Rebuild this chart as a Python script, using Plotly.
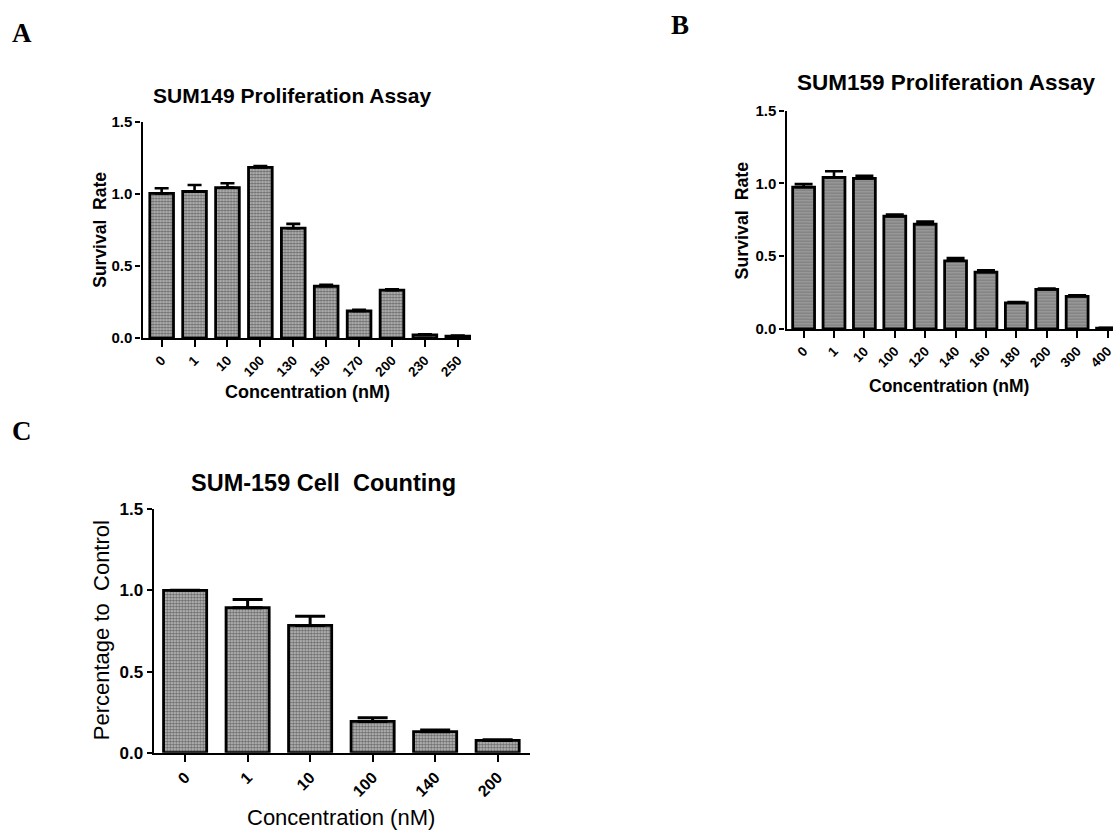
import plotly.graph_objects as go

# ---- Data ----
a_cats = ["0", "1", "10", "100", "130", "150", "170", "200", "230", "250"]
a_vals = [1.005, 1.018, 1.045, 1.185, 0.763, 0.360, 0.188, 0.333, 0.022, 0.014]
a_err = [0.035, 0.045, 0.030, 0.010, 0.030, 0.010, 0.008, 0.006, 0.004, 0.003]

b_cats = ["0", "1", "10", "100", "120", "140", "160", "180", "200", "300", "400"]
b_vals = [0.974, 1.041, 1.034, 0.774, 0.720, 0.468, 0.390, 0.179, 0.271, 0.224, 0.005]
b_err = [0.022, 0.042, 0.018, 0.011, 0.018, 0.018, 0.013, 0.005, 0.006, 0.006, 0.002]

c_cats = ["0", "1", "10", "100", "140", "200"]
c_vals = [1.0, 0.893, 0.784, 0.193, 0.130, 0.076]
c_err = [0.0, 0.050, 0.056, 0.022, 0.010, 0.004]

W, H = 1114, 839
FONT = "Liberation Sans, Arial, sans-serif"
SERIF = "Liberation Serif, Times New Roman, serif"


def px(x):
    return x / W


def py(y):
    return 1 - y / H


fig = go.Figure()

checker = dict(shape=".", size=3, solidity=0.55, fgcolor="#111111", bgcolor="#c4c4c4")
stripes = dict(shape="-", size=3, solidity=0.4, fgcolor="#5c5c5c", bgcolor="#9a9a9a")


def add_bars(cats, vals, err, xa, ya, pattern, width, capw, ethick):
    fig.add_trace(go.Bar(
        x=cats, y=vals, xaxis=xa, yaxis=ya, width=width,
        marker=dict(color="#999999", line=dict(color="black", width=2.8), pattern=pattern),
        error_y=dict(type="data", symmetric=False, array=err, arrayminus=[0] * len(err),
                     color="black", thickness=ethick, width=capw),
        showlegend=False,
    ))


add_bars(a_cats, a_vals, a_err, "x", "y", checker, 0.72, 7, 2.6)
add_bars(b_cats, b_vals, b_err, "x2", "y2", stripes, 0.72, 9, 2.6)
add_bars(c_cats, c_vals, c_err, "x3", "y3", checker, 0.69, 15, 3)


def xax(domain, rng, size, anchor):
    return dict(domain=domain, range=rng, anchor=anchor, type="category",
                showline=True, linecolor="black", linewidth=2.4, ticks="outside",
                ticklen=7, tickwidth=2.2, tickcolor="black", tickangle=-45,
                tickfont=dict(family=FONT, size=size, color="black", weight="bold"),
                showgrid=False, zeroline=False, fixedrange=True)


def yax(domain, size, anchor):
    return dict(domain=domain, range=[0, 1.5], anchor=anchor,
                tickvals=[0, 0.5, 1.0, 1.5], tickformat=".1f",
                showline=True, linecolor="black", linewidth=2.4, ticks="outside",
                ticklen=5, tickwidth=2.2, tickcolor="black",
                tickfont=dict(family=FONT, size=size, color="black", weight="bold"),
                showgrid=False, zeroline=False, fixedrange=True)


fig.update_layout(
    width=W, height=H, margin=dict(l=0, r=0, t=0, b=0),
    paper_bgcolor="white", plot_bgcolor="white",
    xaxis=xax([px(142.7), px(471.7)], [-0.58, 9.41], 13.5, "y"),
    yaxis=yax([py(336.7), py(115.7)], 15, "x"),
    xaxis2=xax([px(787.3), 1.0], [-0.56, 10.18], 13.5, "y2"),
    yaxis2=yax([py(327.3), py(104)], 15, "x2"),
    xaxis3=xax([px(154), px(530)], [-0.5, 5.51], 16, "y3"),
    yaxis3=yax([py(761), py(511.7)], 17, "x3"),
)

annos = [
    # panel letters
    dict(x=px(22), y=py(25), text="<b>A</b>", size=27, family=SERIF),
    dict(x=px(681), y=py(16), text="<b>B</b>", size=27, family=SERIF),
    dict(x=px(22), y=py(432), text="<b>C</b>", size=27, family=SERIF),
    # titles
    dict(x=px(292.5), y=py(88), text="<b>SUM149 Proliferation Assay</b>", size=21, family=FONT),
    dict(x=px(947.5), y=py(75), text="<b>SUM159 Proliferation Assay</b>", size=22.5, family=FONT),
    dict(x=px(324), y=py(485), text="<b>SUM-159 Cell  Counting</b>", size=23.5, family=FONT),
    # x titles
    dict(x=px(307.5), y=py(392), text="<b>Concentration (nM)</b>", size=18, family=FONT),
    dict(x=px(950), y=py(386), text="<b>Concentration (nM)</b>", size=17.5, family=FONT),
    dict(x=px(341), y=py(827), text="Concentration (nM)", size=22, family=FONT),
]
for a in annos:
    fig.add_annotation(x=a["x"], y=a["y"], xref="paper", yref="paper", text=a["text"],
                       showarrow=False, xanchor="center", yanchor="middle",
                       font=dict(family=a["family"], size=a["size"], color="black"))

ytitles = [
    dict(x=px(100), y=py(226), text="<b>Survival  Rate</b>", size=17.5),
    dict(x=px(743), y=py(216), text="<b>Survival  Rate</b>", size=17.8),
    dict(x=px(101.7), y=py(636), text="Percentage to  Control", size=22),
]
for a in ytitles:
    fig.add_annotation(x=a["x"], y=a["y"], xref="paper", yref="paper", text=a["text"],
                       showarrow=False, xanchor="center", yanchor="middle", textangle=-90,
                       font=dict(family=FONT, size=a["size"], color="black"))

fig.write_html("out.html")
